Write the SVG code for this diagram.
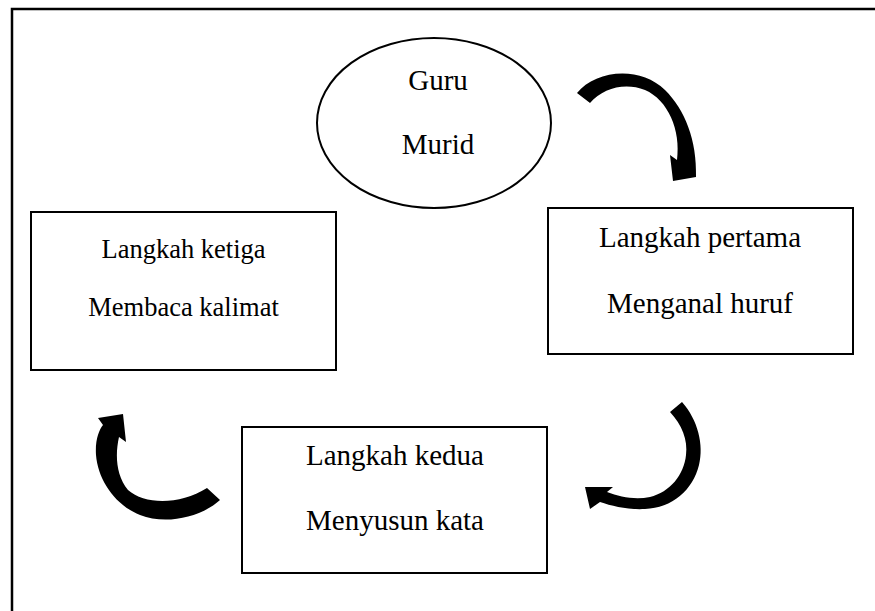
<svg xmlns="http://www.w3.org/2000/svg" width="875" height="611" viewBox="0 0 875 611">
<style>
.shape{fill:#fff;stroke:#000;stroke-width:2}
.t{font-family:'Liberation Serif','DejaVu Serif','Times New Roman',serif;font-size:29px;fill:#000;text-anchor:middle}
.s{font-size:26.5px}
.arrow{fill:#000;stroke:none}
</style>
<rect width="875" height="611" fill="#fff"/>
<g id="frame">
<path d="M12,611 L12,9 L875,9" fill="none" stroke="#000" stroke-width="2.5"/>
</g>
<g id="connectors">
<path class="arrow" d="M577,93 C595,70 640,65 665,90 C685,110 697,140 696,177 L673,181 L670,155 L677,160 C681,130 668,100 645,90 C625,82 603,88 590,103 Z"/>
<path class="arrow" d="M670,412 L682,402 C698,420 704,445 699,465 C693,490 672,508 645,509 C628,510 612,506 600,502 L590,509 L585,487 L613,487 L607,492 C620,497 635,500 650,497 C670,492 684,475 686,455 C688,440 682,425 670,412 Z"/>
<path class="arrow" d="M220,500 C200,518 165,525 140,515 C115,505 98,480 96,455 C95,440 99,430 103,425 L98,418 L123,414 L126,442 L119,437 C115,455 116,475 128,490 C145,505 180,505 207,488 Z"/>
</g>
<g id="node-guru">
<ellipse class="shape" cx="434" cy="123" rx="117" ry="85"/>
<text class="t" x="438" y="90">Guru</text>
<text class="t" x="438" y="154">Murid</text>
</g>
<g id="node-ketiga">
<rect class="shape" x="31" y="212" width="305" height="158"/>
<text class="t s" x="183.5" y="258">Langkah ketiga</text>
<text class="t s" x="183.5" y="316">Membaca kalimat</text>
</g>
<g id="node-pertama">
<rect class="shape" x="548" y="208" width="305" height="146"/>
<text class="t" x="700" y="247">Langkah pertama</text>
<text class="t" x="700" y="313">Menganal huruf</text>
</g>
<g id="node-kedua">
<rect class="shape" x="242" y="427" width="305" height="146"/>
<text class="t" x="395" y="465">Langkah kedua</text>
<text class="t" x="395" y="530">Menyusun kata</text>
</g>
</svg>
